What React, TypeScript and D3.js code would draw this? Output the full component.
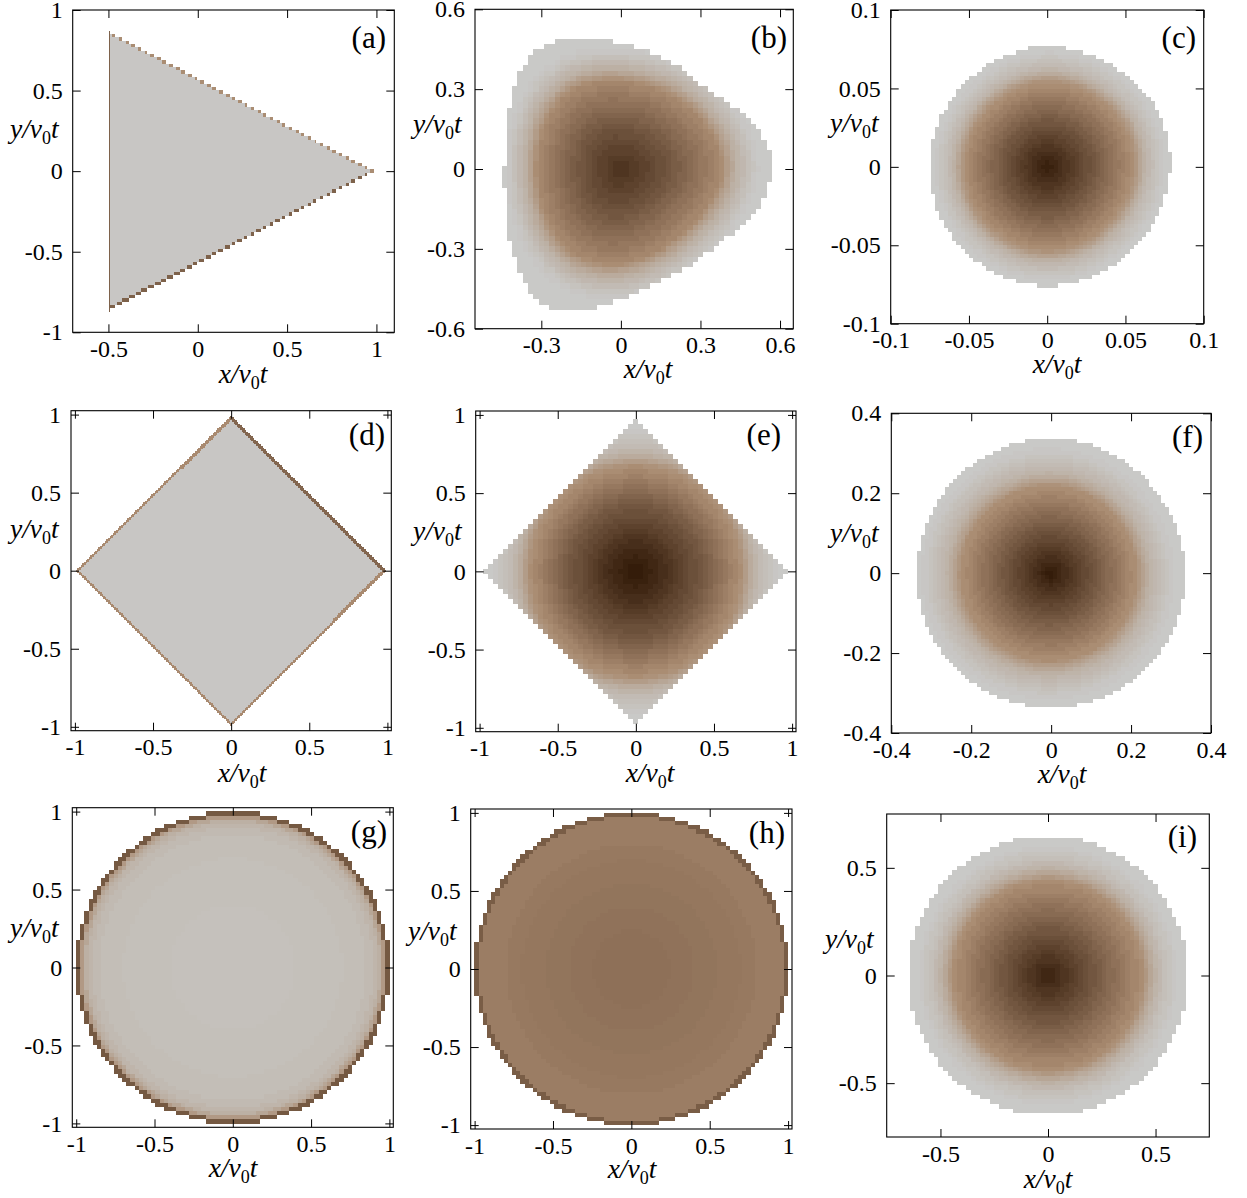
import React, { useEffect, useRef } from "react";
import * as d3 from "d3";

type Pt = [number, number];

// Shared colour ramp: gray at the rim, tan in the ring, dark brown in the core
const rampStops = [0, 0.5, 1];
const rampColors = ["#c9c9c7", "#a98a70", "#321a08"];

const unitTicks = [-1, -0.5, 0, 0.5, 1];

// (a) triangle, one darker lower edge and one lighter upper edge
const aMask: Pt[] = [[-0.5, 0.865], [-0.5, -0.865], [0.985, 0]];
const aUpperBand: Pt[] = [[-0.491, 0.86], [0.985, 0], [0.967, 0], [-0.491, -0.842]];
const aInner: Pt[] = [[-0.491, 0.849], [-0.491, -0.842], [0.967, 0]];
const aValues = [0.48, 0.02];

// (b) rounded triangle: rim every 15 degrees, ring every 30 degrees
const bOuter = [0.58, 0.55, 0.474, 0.43, 0.44, 0.456, 0.467, 0.509, 0.56, 0.532, 0.481, 0.447, 0.436, 0.45, 0.487, 0.54, 0.605, 0.555, 0.485, 0.442, 0.445, 0.445, 0.482, 0.544];
const bRing = [0.4, 0.355, 0.335, 0.325, 0.36, 0.335, 0.31, 0.33, 0.375, 0.36, 0.33, 0.34];
const bValues = [0.02, 0.05, 0.08, 0.11, 0.14, 0.17, 0.2, 0.24, 0.28, 0.32, 0.36, 0.4, 0.44, 0.48, 0.52, 0.55, 0.58, 0.61, 0.64, 0.67, 0.7, 0.73, 0.76, 0.79, 0.82, 0.85, 0.88];
const bScale = [1.36, 1.31, 1.27, 1.24, 1.21, 1.18, 1.15, 1.125, 1.1, 1.08, 1.06, 1.04, 1.025, 1.01, 0.98, 0.91, 0.85, 0.78, 0.71, 0.65, 0.58, 0.51, 0.44, 0.36, 0.27, 0.18, 0.09];

// (c) nearly round, slight bulge to the right
const cOuter = [0.079, 0.0795, 0.076, 0.0775, 0.0745, 0.075, 0.0754, 0.0752, 0.0755, 0.0762, 0.0755, 0.0765];
const cShape = [1.03, 1.03, 0.99, 1.01, 0.97, 0.975, 0.98, 0.975, 0.98, 0.99, 0.98, 0.99];
const cValues = [0.02, 0.05, 0.08, 0.11, 0.14, 0.17, 0.2, 0.24, 0.28, 0.32, 0.36, 0.4, 0.44, 0.48, 0.52, 0.55, 0.58, 0.61, 0.64, 0.67, 0.7, 0.73, 0.76, 0.79, 0.82, 0.85, 0.88, 0.91, 0.94, 0.97];
const cRadii = [0.073, 0.0705, 0.068, 0.066, 0.064, 0.0625, 0.061, 0.06, 0.059, 0.058, 0.057, 0.056, 0.055, 0.0535, 0.051, 0.048, 0.045, 0.042, 0.039, 0.036, 0.033, 0.03, 0.027, 0.0235, 0.0205, 0.017, 0.014, 0.0105, 0.0075, 0.0035];

// (d) thin-walled diamond, heavier upper right edge
const dMask: Pt[] = [[-0.99, 0], [0, 0.99], [0.99, 0], [0, -0.99]];
const dLeftBand: Pt[] = [[-0.99, 0], [0, 0.99], [0, 0.965], [0.965, 0], [0.99, 0], [0, -0.99]];
const dInner: Pt[] = [[-0.975, 0], [0, 0.965], [0.965, 0], [0, -0.975]];
const dValues = [0.5, 0.02];

// (e) diamond rim with round contours inside
const eMask: Pt[] = [[-0.99, 0], [0, 0.99], [0.99, 0], [0, -0.99]];
const eValues = [0.02, 0.05, 0.08, 0.11, 0.14, 0.17, 0.2, 0.24, 0.28, 0.32, 0.36, 0.4, 0.44, 0.48, 0.52, 0.55, 0.58, 0.61, 0.64, 0.67, 0.7, 0.73, 0.76, 0.79, 0.82, 0.85, 0.88, 0.91, 0.94, 0.97, 0.99];
const eRadii = [0.92, 0.87, 0.84, 0.815, 0.79, 0.775, 0.76, 0.745, 0.73, 0.72, 0.71, 0.7, 0.69, 0.675, 0.645, 0.61, 0.58, 0.55, 0.52, 0.49, 0.46, 0.43, 0.39, 0.35, 0.31, 0.27, 0.24, 0.2, 0.16, 0.1, 0.05];

// (f) round
const fOuter = [0.337, 0.33, 0.335, 0.337, 0.335, 0.335, 0.335, 0.338, 0.338, 0.337, 0.337, 0.338];
const fShape = [0.98, 0.96, 0.98, 0.99, 1, 1.02, 1.03, 1.03, 1.02, 1, 1, 0.99];
const fValues = [0.02, 0.05, 0.08, 0.11, 0.14, 0.17, 0.2, 0.24, 0.28, 0.32, 0.36, 0.4, 0.44, 0.48, 0.52, 0.55, 0.58, 0.61, 0.64, 0.67, 0.7, 0.73, 0.76, 0.79, 0.82, 0.85, 0.88, 0.91, 0.94, 0.97, 0.99];
const fRadii = [0.315, 0.3, 0.29, 0.28, 0.27, 0.26, 0.253, 0.247, 0.242, 0.237, 0.232, 0.228, 0.224, 0.22, 0.205, 0.193, 0.18, 0.168, 0.155, 0.143, 0.13, 0.118, 0.105, 0.093, 0.08, 0.068, 0.055, 0.043, 0.03, 0.02, 0.01];

// (g) disc with a dark rim, (h) disc filled with tan
const gValues = [0.38, 0.28, 0.2, 0.16, 0.12, 0.09, 0.075, 0.065];
const gRadii = [0.975, 0.96, 0.945, 0.93, 0.9, 0.85, 0.7, 0.4];
const hValues = [0.56, 0.575, 0.585, 0.595, 0.605, 0.615];
const hRadii = [0.975, 0.8, 0.7, 0.55, 0.4, 0.25];

// (i) round
const iValues = [0.02, 0.05, 0.08, 0.11, 0.14, 0.17, 0.2, 0.24, 0.28, 0.32, 0.36, 0.4, 0.44, 0.48, 0.52, 0.55, 0.58, 0.61, 0.64, 0.67, 0.7, 0.73, 0.76, 0.79, 0.82, 0.85, 0.88, 0.91, 0.94];
const iRadii = [0.6, 0.58, 0.555, 0.535, 0.525, 0.51, 0.5, 0.49, 0.48, 0.47, 0.463, 0.457, 0.45, 0.44, 0.42, 0.39, 0.36, 0.333, 0.305, 0.278, 0.25, 0.223, 0.195, 0.168, 0.14, 0.115, 0.09, 0.065, 0.04];

// Closed outline from radii read at equal angles, counter-clockwise from +x
const ring = (radii: number[]): Pt[] => {
  const spline = d3.interpolateBasisClosed(radii);
  return d3.range(96).map((i) => {
    const t = i / 96;
    const r = spline(t);
    return [r * Math.cos(2 * Math.PI * t), r * Math.sin(2 * Math.PI * t)] as Pt;
  });
};

const scaled = (shape: number[], k: number) => shape.map((s) => s * k);

interface PanelSpec {
  tag: string;
  box: [number, number, number, number]; // left, right, top, bottom in page pixels
  xDomain: [number, number];
  yDomain: [number, number];
  xTicks: number[];
  yTicks: number[];
  cell: [number, number];
  mask: Pt[];
  baseValue: number;
  values: number[];
  outlines: Pt[][];
  xLabel: [number, number];
  yLabel: [number, number];
  tagPos: [number, number];
}

const panels: PanelSpec[] = [
  {
    tag: "(a)", box: [72.7, 394.3, 10, 332.3], xDomain: [-0.7, 1.1], yDomain: [-1, 1],
    xTicks: [-0.5, 0, 0.5, 1], yTicks: unitTicks, cell: [0.0097, 0.0205],
    mask: aMask, baseValue: 0.68, values: aValues, outlines: [aUpperBand, aInner],
    xLabel: [243, 383], yLabel: [10, 138], tagPos: [386, 48],
  },
  {
    tag: "(b)", box: [475, 793.3, 9.3, 328.7], xDomain: [-0.55, 0.65], yDomain: [-0.6, 0.6],
    xTicks: [-0.3, 0, 0.3, 0.6], yTicks: [-0.6, -0.3, 0, 0.3, 0.6], cell: [0.02, 0.02],
    mask: ring(bOuter), baseValue: 0, values: bValues, outlines: bScale.map((k) => ring(scaled(bRing, k))),
    xLabel: [648, 378], yLabel: [413, 133], tagPos: [787, 48],
  },
  {
    tag: "(c)", box: [890.7, 1203.7, 10, 323.7], xDomain: [-0.1, 0.1], yDomain: [-0.1, 0.1],
    xTicks: [-0.1, -0.05, 0, 0.05, 0.1], yTicks: [-0.1, -0.05, 0, 0.05, 0.1], cell: [0.0027, 0.0027],
    mask: ring(cOuter), baseValue: 0, values: cValues, outlines: cRadii.map((r) => ring(scaled(cShape, r))),
    xLabel: [1057, 373], yLabel: [830, 132], tagPos: [1196, 48],
  },
  {
    tag: "(d)", box: [71, 391.3, 410.7, 730.7], xDomain: [-1.025, 1.025], yDomain: [-1.025, 1.025],
    xTicks: unitTicks, yTicks: unitTicks, cell: [0.0103, 0.0103],
    mask: dMask, baseValue: 0.66, values: dValues, outlines: [dLeftBand, dInner],
    xLabel: [242, 782], yLabel: [10, 538], tagPos: [385, 445],
  },
  {
    tag: "(e)", box: [475.7, 796, 411, 731.7], xDomain: [-1.025, 1.025], yDomain: [-1.025, 1.025],
    xTicks: unitTicks, yTicks: unitTicks, cell: [0.032, 0.032],
    mask: eMask, baseValue: 0, values: eValues, outlines: eRadii.map((r) => ring([r])),
    xLabel: [650, 782], yLabel: [413, 540], tagPos: [781, 445],
  },
  {
    tag: "(f)", box: [891.3, 1211, 413.3, 733], xDomain: [-0.4, 0.4], yDomain: [-0.4, 0.4],
    xTicks: [-0.4, -0.2, 0, 0.2, 0.4], yTicks: [-0.4, -0.2, 0, 0.2, 0.4], cell: [0.01, 0.01],
    mask: ring(fOuter), baseValue: 0, values: fValues, outlines: fRadii.map((r) => ring(scaled(fShape, r))),
    xLabel: [1062, 783], yLabel: [830, 542], tagPos: [1203, 447],
  },
  {
    tag: "(g)", box: [72.3, 393.3, 807.7, 1127.3], xDomain: [-1.025, 1.025], yDomain: [-1.025, 1.025],
    xTicks: unitTicks, yTicks: unitTicks, cell: [0.0267, 0.0267],
    mask: ring([1.005]), baseValue: 0.72, values: gValues, outlines: gRadii.map((r) => ring([r])),
    xLabel: [233, 1177], yLabel: [10, 937], tagPos: [387, 842],
  },
  {
    tag: "(h)", box: [470.7, 792, 809, 1129], xDomain: [-1.025, 1.025], yDomain: [-1.025, 1.025],
    xTicks: unitTicks, yTicks: unitTicks, cell: [0.0267, 0.0267],
    mask: ring([1.005]), baseValue: 0.7, values: hValues, outlines: hRadii.map((r) => ring([r])),
    xLabel: [632, 1178], yLabel: [408, 940], tagPos: [785, 843],
  },
  {
    tag: "(i)", box: [886.7, 1209.3, 814, 1137], xDomain: [-0.75, 0.75], yDomain: [-0.75, 0.75],
    xTicks: [-0.5, 0, 0.5], yTicks: [-0.5, 0, 0.5], cell: [0.0217, 0.0217],
    mask: ring([0.648]), baseValue: 0, values: iValues, outlines: iRadii.map((r) => ring([r])),
    xLabel: [1048, 1188], yLabel: [825, 948], tagPos: [1197, 847],
  },
];

const FONT = "'Liberation Serif', 'Times New Roman', serif";

const drawPanel = (
  svg: d3.Selection<SVGSVGElement, unknown, null, undefined>,
  p: PanelSpec,
  color: d3.ScaleLinear<string, string>
) => {
  const [left, right, top, bottom] = p.box;
  const x = d3.scaleLinear().domain(p.xDomain).range([left, right]);
  const y = d3.scaleLinear().domain(p.yDomain).range([bottom, top]);
  const [dx, dy] = p.cell;

  // Each cell takes the value of the innermost contour around its centre
  const paths: string[][] = d3.range(p.values.length + 1).map(() => []);
  const i0 = Math.ceil(p.xDomain[0] / dx);
  const i1 = Math.floor(p.xDomain[1] / dx);
  const j0 = Math.ceil(p.yDomain[0] / dy);
  const j1 = Math.floor(p.yDomain[1] / dy);
  for (let i = i0; i <= i1; i++) {
    for (let j = j0; j <= j1; j++) {
      const c: Pt = [i * dx, j * dy];
      if (!d3.polygonContains(p.mask, c)) continue;
      let level = 0;
      for (let k = p.outlines.length - 1; k >= 0; k--) {
        if (d3.polygonContains(p.outlines[k], c)) {
          level = k + 1;
          break;
        }
      }
      const px0 = Math.round(x(c[0] - dx / 2));
      const px1 = Math.round(x(c[0] + dx / 2));
      const py0 = Math.round(y(c[1] + dy / 2));
      const py1 = Math.round(y(c[1] - dy / 2));
      paths[level].push(`M${px0},${py0}H${px1}V${py1}H${px0}Z`);
    }
  }

  const g = svg.append("g").attr("filter", "url(#soften)");
  [p.baseValue, ...p.values].forEach((v, k) => {
    g.append("path")
      .attr("d", paths[k].join(""))
      .attr("fill", color(v))
      .attr("shape-rendering", "crispEdges");
  });

  // Ticks point inward on all four sides, only bottom and left carry labels
  const axes = [
    { axis: d3.axisBottom(x).tickValues(p.xTicks), at: `translate(0,${bottom})`, labels: true, pad: 7.5 },
    { axis: d3.axisTop(x).tickValues(p.xTicks), at: `translate(0,${top})`, labels: false, pad: 0 },
    { axis: d3.axisLeft(y).tickValues(p.yTicks), at: `translate(${left},0)`, labels: true, pad: 10 },
    { axis: d3.axisRight(y).tickValues(p.yTicks), at: `translate(${right},0)`, labels: false, pad: 0 },
  ];
  axes.forEach(({ axis, at, labels, pad }) => {
    const a = svg
      .append("g")
      .attr("transform", at)
      .call(
        axis
          .tickSizeInner(-8)
          .tickSizeOuter(0)
          .tickPadding(pad)
          .tickFormat((d) => (labels ? String(d) : ""))
      );
    a.select(".domain").remove();
    a.selectAll("line").attr("stroke", "#000");
    a.selectAll("text").attr("font-family", FONT).attr("font-size", 24).attr("fill", "#000");
  });

  svg
    .append("rect")
    .attr("x", left)
    .attr("y", top)
    .attr("width", right - left)
    .attr("height", bottom - top)
    .attr("fill", "none")
    .attr("stroke", "#000")
    .attr("stroke-width", 1.1);

  const axisTitle = (name: string, px: number, py: number, anchor: string) => {
    const t = svg
      .append("text")
      .attr("x", px)
      .attr("y", py)
      .attr("text-anchor", anchor)
      .attr("font-family", FONT)
      .attr("font-size", 27.5)
      .attr("font-style", "italic");
    t.append("tspan").text(`${name}/v`);
    t.append("tspan").attr("font-size", 18).attr("font-style", "normal").attr("dy", 6).text("0");
    t.append("tspan").attr("dy", -6).text("t");
  };
  axisTitle("x", p.xLabel[0], p.xLabel[1], "middle");
  axisTitle("y", p.yLabel[0], p.yLabel[1], "start");

  svg
    .append("text")
    .attr("x", p.tagPos[0])
    .attr("y", p.tagPos[1])
    .attr("text-anchor", "end")
    .attr("font-family", FONT)
    .attr("font-size", 31)
    .text(p.tag);
};

const App: React.FC = () => {
  const svgRef = useRef<SVGSVGElement>(null);

  useEffect(() => {
    if (!svgRef.current) return;
    const svg = d3.select(svgRef.current);
    svg.selectAll("*").remove();
    // The reference is slightly soft, as if it had been resampled
    svg
      .append("defs")
      .append("filter")
      .attr("id", "soften")
      .attr("color-interpolation-filters", "sRGB")
      .append("feGaussianBlur")
      .attr("stdDeviation", 0.6);
    const color = d3.scaleLinear<string>().domain(rampStops).range(rampColors);
    panels.forEach((p) => drawPanel(svg, p, color));
  }, []);

  return (
    <svg
      ref={svgRef}
      width={1247}
      height={1198}
      style={{ position: "absolute", left: 0, top: 0, background: "#fff" }}
    />
  );
};

export default App;
